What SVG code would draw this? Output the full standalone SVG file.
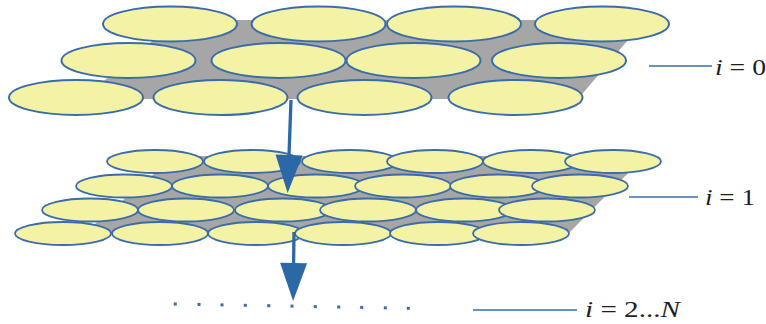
<svg xmlns="http://www.w3.org/2000/svg" width="766" height="324" viewBox="0 0 766 324">
  <defs>
    <style>
      .cell { fill: #f4f2a4; stroke: #3a6ca9; stroke-width: 2; }
      .cell1 { fill: #f4f2a4; stroke: #3a6ca9; stroke-width: 1.8; }
      .gap { fill: #a6a6a6; stroke: none; }
      .flow { stroke: #2c67a6; stroke-width: 3.3; fill: none; marker-end: url(#head); }
      .leader { stroke: #3a6ca9; stroke-width: 1.6; fill: none; }
      .dot { fill: #3a6ca9; }
      .lbl { font-family: "Liberation Serif", "Times New Roman", serif; font-size: 24px; fill: #1e1e1e; }
      .it { font-style: italic; }
    </style>
    <marker id="head" markerUnits="userSpaceOnUse" markerWidth="40" markerHeight="28" refX="0" refY="13.5" orient="auto" overflow="visible">
      <path d="M0,0 L38,13.5 L0,27 Z" fill="#2c67a6"/>
    </marker>
  </defs>

  <!-- level i = 0: large cells on a grey base -->
  <g id="layer0">
    <polygon class="gap" points="178,20 645,20 578,99 82,99"/>
    <ellipse class="cell" cx="170" cy="24" rx="67" ry="17.5"/>
    <ellipse class="cell" cx="318.5" cy="24" rx="67" ry="17.5"/>
    <ellipse class="cell" cx="454" cy="24" rx="67" ry="17.5"/>
    <ellipse class="cell" cx="602" cy="24" rx="67" ry="17.5"/>
    <ellipse class="cell" cx="128.5" cy="60.5" rx="67" ry="17.5"/>
    <ellipse class="cell" cx="278.5" cy="60.5" rx="67" ry="17.5"/>
    <ellipse class="cell" cx="413.5" cy="60.5" rx="67" ry="17.5"/>
    <ellipse class="cell" cx="559" cy="60.5" rx="67" ry="17.5"/>
    <ellipse class="cell" cx="76" cy="97.5" rx="67" ry="17.5"/>
    <ellipse class="cell" cx="220.5" cy="97.5" rx="67" ry="17.5"/>
    <ellipse class="cell" cx="364.5" cy="97.5" rx="67" ry="17.5"/>
    <ellipse class="cell" cx="515.5" cy="97.5" rx="67" ry="17.5"/>
  </g>

  <!-- level i = 1: smaller cells on a grey base -->
  <g id="layer1">
    <polygon class="gap" points="175,156 645,156 567,235 82,235"/>
    <ellipse class="cell1" cx="155" cy="161.5" rx="48" ry="11.5"/>
    <ellipse class="cell1" cx="252" cy="161.5" rx="48" ry="11.5"/>
    <ellipse class="cell1" cx="350" cy="161.5" rx="48" ry="11.5"/>
    <ellipse class="cell1" cx="435" cy="161.5" rx="48" ry="11.5"/>
    <ellipse class="cell1" cx="531" cy="161.5" rx="48" ry="11.5"/>
    <ellipse class="cell1" cx="613" cy="161.5" rx="48" ry="11.5"/>

    <ellipse class="cell1" cx="124" cy="186" rx="48" ry="11.5"/>
    <ellipse class="cell1" cx="220" cy="186" rx="48" ry="11.5"/>
    <ellipse class="cell1" cx="316" cy="186" rx="48" ry="11.5"/>
    <ellipse class="cell1" cx="403" cy="186" rx="48" ry="11.5"/>
    <ellipse class="cell1" cx="498" cy="186" rx="48" ry="11.5"/>
    <ellipse class="cell1" cx="580" cy="186" rx="48" ry="11.5"/>

    <ellipse class="cell1" cx="90" cy="210" rx="48" ry="11.5"/>
    <ellipse class="cell1" cx="186" cy="210" rx="48" ry="11.5"/>
    <ellipse class="cell1" cx="283" cy="210" rx="48" ry="11.5"/>
    <ellipse class="cell1" cx="368" cy="210" rx="48" ry="11.5"/>
    <ellipse class="cell1" cx="464" cy="210" rx="48" ry="11.5"/>
    <ellipse class="cell1" cx="547" cy="210" rx="48" ry="11.5"/>

    <ellipse class="cell1" cx="63" cy="233.5" rx="48" ry="11.5"/>
    <ellipse class="cell1" cx="160" cy="233.5" rx="48" ry="11.5"/>
    <ellipse class="cell1" cx="256" cy="233.5" rx="48" ry="11.5"/>
    <ellipse class="cell1" cx="343" cy="233.5" rx="48" ry="11.5"/>
    <ellipse class="cell1" cx="438" cy="233.5" rx="48" ry="11.5"/>
    <ellipse class="cell1" cx="521" cy="233.5" rx="48" ry="11.5"/>
  </g>

  <!-- levels i = 2...N: dotted continuation -->
  <g id="layerN">
    <rect class="dot" x="173.8" y="302.5" width="3" height="3"/>
    <rect class="dot" x="197.5" y="302.9" width="3" height="3"/>
    <rect class="dot" x="220.5" y="303.4" width="3" height="3"/>
    <rect class="dot" x="243.8" y="303.8" width="3" height="3"/>
    <rect class="dot" x="267.2" y="304.2" width="3" height="3"/>
    <rect class="dot" x="290.5" y="304.6" width="3" height="3"/>
    <rect class="dot" x="313.8" y="305.1" width="3" height="3"/>
    <rect class="dot" x="337.2" y="305.5" width="3" height="3"/>
    <rect class="dot" x="360.2" y="305.9" width="3" height="3"/>
    <rect class="dot" x="383.8" y="306.3" width="3" height="3"/>
    <rect class="dot" x="406.8" y="306.8" width="3" height="3"/>
  </g>

  <!-- downward refinement arrows -->
  <g id="connectors">
    <line class="flow" x1="291" y1="100" x2="289" y2="155"/>
    <line class="flow" x1="294" y1="232" x2="293.6" y2="263"/>
  </g>

  <!-- level labels with leader lines -->
  <g id="label0">
    <line class="leader" x1="649" y1="66" x2="712" y2="66"/>
    <text class="lbl" x="715" y="75" textLength="51" lengthAdjust="spacingAndGlyphs"><tspan class="it">i</tspan> = 0</text>
  </g>
  <g id="label1">
    <line class="leader" x1="629" y1="197" x2="698" y2="197"/>
    <text class="lbl" x="705" y="205" textLength="50" lengthAdjust="spacingAndGlyphs"><tspan class="it">i</tspan> = 1</text>
  </g>
  <g id="labelN">
    <line class="leader" x1="473" y1="310" x2="577" y2="310"/>
    <text class="lbl" x="585" y="317" textLength="95" lengthAdjust="spacingAndGlyphs"><tspan class="it">i</tspan> = 2...<tspan class="it">N</tspan></text>
  </g>
</svg>
